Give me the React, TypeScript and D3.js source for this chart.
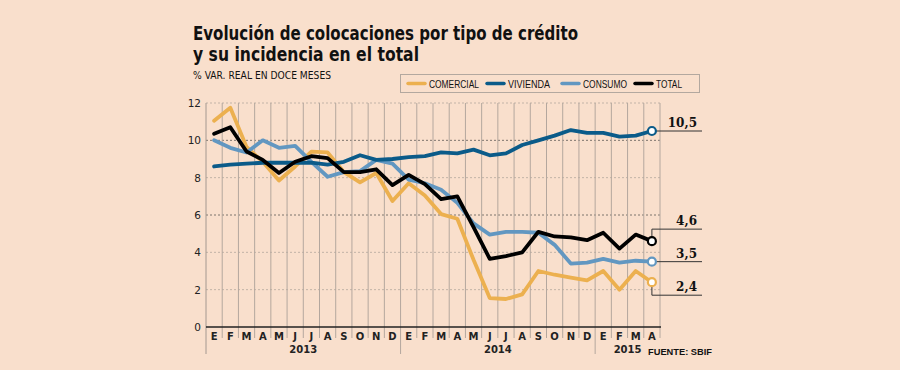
import * as d3 from 'd3';

// meses enero 2013 - abril 2015
const months = ['E', 'F', 'M', 'A', 'M', 'J', 'J', 'A', 'S', 'O', 'N', 'D',
  'E', 'F', 'M', 'A', 'M', 'J', 'J', 'A', 'S', 'O', 'N', 'D',
  'E', 'F', 'M', 'A'];
const years = ['2013', '2014', '2015'];
const monthsPerYear = [12, 12, 4];
const yTicks = [0, 2, 4, 6, 8, 10, 12];

const comercial = [11.05, 11.75, 9.65, 8.85, 7.85, 8.6, 9.4, 9.35, 8.3, 7.75, 8.25, 6.75,
  7.7, 7.05, 6.05, 5.8, 3.6, 1.55, 1.5, 1.75, 3.0, 2.8, 2.65, 2.5, 3.0, 2.0, 3.0, 2.4];
const vivienda = [8.6, 8.7, 8.75, 8.8, 8.8, 8.8, 8.8, 8.7, 8.85, 9.2, 8.95, 9.0,
  9.1, 9.15, 9.35, 9.3, 9.5, 9.2, 9.3, 9.75, 10.0, 10.25, 10.55, 10.4, 10.4, 10.2, 10.25, 10.5];
const consumo = [10.0, 9.6, 9.35, 10.0, 9.6, 9.7, 8.85, 8.05, 8.3, 8.35, 8.95, 8.75,
  7.9, 7.7, 7.35, 6.65, 5.55, 4.95, 5.1, 5.1, 5.05, 4.4, 3.4, 3.45, 3.65, 3.45, 3.55, 3.5];
const total = [10.35, 10.7, 9.4, 8.95, 8.25, 8.85, 9.15, 9.05, 8.3, 8.3, 8.45, 7.6,
  8.15, 7.65, 6.85, 7.0, 5.35, 3.65, 3.8, 4.0, 5.1, 4.85, 4.8, 4.65, 5.05, 4.2, 4.95, 4.6];

const seriesNames = ['COMERCIAL', 'VIVIENDA', 'CONSUMO', 'TOTAL'];
const seriesValues = [comercial, vivienda, consumo, total];
const colors = ['#ecb04f', '#0b5b89', '#6297c1', '#000000'];
// label leader offsets (px) relative to the end dot
const labelShift = [13, 0, 0, -12];
// drawing order: comercial, consumo, vivienda, total
const drawOrder = [0, 2, 1, 3];

const BG = '#f9dfcc';

export default function App() {
  const left = 206;
  const right = 660;
  const top = 103;
  const bottom = 327;

  const x = d3.scaleBand<number>().domain(d3.range(months.length)).range([left, right]);
  const y = d3.scaleLinear().domain([0, 12]).range([bottom, top]);
  const cx = (i: number) => (x(i) ?? 0) + x.bandwidth() / 2;

  const line = d3
    .line<number>()
    .x((_, i) => cx(i))
    .y((d) => y(d));

  const fmt = (v: number) => d3.format('.1f')(v).replace('.', ',');
  const last = months.length - 1;

  // year boundaries
  const yearStarts: number[] = [];
  let acc = 0;
  monthsPerYear.forEach((n) => {
    yearStarts.push(acc);
    acc += n;
  });

  // condensed legend: swatch start and text width
  const legendX = [408, 487, 562, 635];
  const legendW = [50, 42, 44, 26];
  const narrow = "'Liberation Sans', Arial, sans-serif";

  return (
    <svg
      width={900}
      height={370}
      style={{ position: 'absolute', left: 0, top: 0, background: BG }}
    >
      <rect x={0} y={0} width={900} height={370} fill={BG} />

      {/* título */}
      <g fontFamily="'DejaVu Sans', Verdana, sans-serif" fontWeight="bold" fill="#111">
        <text x={193} y={40} fontSize={19} textLength={385} lengthAdjust="spacingAndGlyphs">
          Evolución de colocaciones por tipo de crédito
        </text>
        <text x={193} y={61} fontSize={19} textLength={226} lengthAdjust="spacingAndGlyphs">
          y su incidencia en el total
        </text>
        <text x={193} y={79} fontSize={10} fontWeight="normal" textLength={138} lengthAdjust="spacingAndGlyphs">
          % VAR. REAL EN DOCE MESES
        </text>
      </g>

      {/* leyenda */}
      <rect x={400.5} y={74.5} width={299} height={18} fill="none" stroke="#b3a89f" strokeWidth={1} />
      {seriesNames.map((name, k) => (
        <g key={name}>
          <line
            x1={legendX[k]}
            x2={legendX[k] + 17}
            y1={83.5}
            y2={83.5}
            stroke={colors[k]}
            strokeWidth={3.5}
            strokeLinecap="round"
          />
          <text
            x={legendX[k] + 21}
            y={87.5}
            fontSize={11}
            fontFamily={narrow}
            textLength={legendW[k]}
            lengthAdjust="spacingAndGlyphs"
            fill="#111"
          >
            {name}
          </text>
        </g>
      ))}

      {/* cuadrícula horizontal */}
      {yTicks.filter((t) => t > 0).map((t) => (
        <line
          key={'h' + t}
          x1={left}
          x2={right}
          y1={y(t)}
          y2={y(t)}
          stroke={t === 10 || t === 6 ? '#7d746d' : '#c2b3a7'}
          strokeWidth={1}
          strokeDasharray="2,2"
        />
      ))}

      {/* cuadrícula vertical */}
      {d3.range(1, months.length + 1).map((i) => (
        <line
          key={'v' + i}
          x1={left + x.step() * i}
          x2={left + x.step() * i}
          y1={top}
          y2={yearStarts.includes(i) ? 354 : 338}
          stroke="#b4a79e"
          strokeWidth={1}
        />
      ))}
      <line x1={left} x2={left} y1={top} y2={354} stroke="#a49890" strokeWidth={1} />
      <line x1={left} x2={right + 1} y1={bottom} y2={bottom} stroke="#222" strokeWidth={1.5} />

      {/* eje Y */}
      {yTicks.map((t) => (
        <text
          key={'y' + t}
          x={201}
          y={y(t) + 4}
          textAnchor="end"
          fontSize={10.5}
          fontFamily="'DejaVu Sans', sans-serif"
          fill="#222"
        >
          {t}
        </text>
      ))}

      {/* eje X */}
      {months.map((m, i) => (
        <text
          key={'m' + i}
          x={cx(i)}
          y={340}
          textAnchor="middle"
          fontSize={10}
          fontWeight="bold"
          fontFamily="'DejaVu Sans', sans-serif"
          fill="#222"
        >
          {m}
        </text>
      ))}
      {years.map((yr, k) => {
        const s = yearStarts[k];
        const e = s + monthsPerYear[k];
        const mid = (left + x.step() * s + left + x.step() * e) / 2;
        return (
          <text
            key={yr}
            x={mid}
            y={353}
            textAnchor="middle"
            fontSize={10}
            fontWeight="bold"
            fontFamily="'DejaVu Sans', sans-serif"
            fill="#222"
          >
            {yr}
          </text>
        );
      })}
      <text
        x={648}
        y={355}
        fontSize={9.5}
        fontWeight="bold"
        fontFamily={narrow}
        textLength={64}
        lengthAdjust="spacingAndGlyphs"
        fill="#111"
      >
        FUENTE: SBIF
      </text>

      {/* líneas */}
      {drawOrder.map((k) => (
        <path
          key={'l' + k}
          d={line(seriesValues[k]) ?? ''}
          fill="none"
          stroke={colors[k]}
          strokeWidth={3.8}
          strokeLinejoin="round"
          strokeLinecap="round"
        />
      ))}

      {/* etiquetas finales */}
      {seriesValues.map((vals, k) => {
        const v = vals[last];
        const px = cx(last);
        const py = y(v);
        const ly = py + labelShift[k];
        return (
          <g key={'e' + k}>
            <polyline
              points={`${px},${py} ${px},${ly} 702,${ly}`}
              fill="none"
              stroke="#333"
              strokeWidth={1}
            />
            <circle cx={px} cy={py} r={4} fill="#fff" stroke={colors[k]} strokeWidth={2.2} />
            <text
              x={697}
              y={ly - 4}
              textAnchor="end"
              fontSize={12}
              fontWeight="bold"
              fontFamily="'DejaVu Serif', serif"
              fill="#111"
            >
              {fmt(v)}
            </text>
          </g>
        );
      })}
    </svg>
  );
}
